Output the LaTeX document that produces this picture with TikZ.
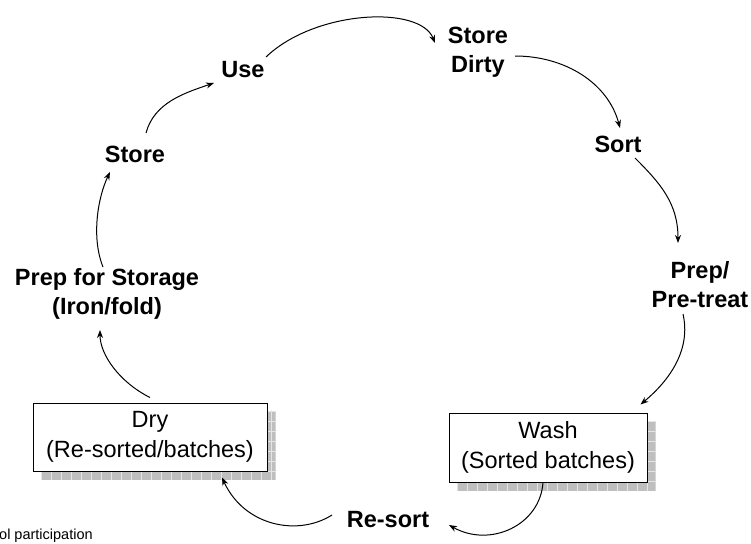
\documentclass[tikz,border=0pt]{standalone}
\usepackage{fontspec}
\setmainfont{Liberation Sans}
\usetikzlibrary{arrows.meta,calc,backgrounds}
\tikzset{
  lbl/.style={font=\fontsize{23.5}{29}\selectfont\bfseries, align=center, inner sep=0pt},
  boxed/.style={draw=black, line width=1pt, fill=white,
    font=\fontsize{23.5}{30}\selectfont, align=center, inner sep=0pt},
  flow/.style={line width=1pt, -{Stealth[length=8pt,width=6pt]}},
  shadefill/.style={fill=gray!50},
  shadegrid/.style={draw=gray!20, line width=0.6pt},
  note/.style={font=\fontsize{14.5}{17}\selectfont, inner sep=0pt, anchor=base west},
}
\begin{document}
\begin{tikzpicture}[x=1pt,y=-1pt]
\useasboundingbox (0,0) rectangle (751,543);

% stage labels
\node[lbl] (use)    at (243,70)  {Use};
\node[lbl] (dirty)  at (478,52)  {Store\\Dirty};
\node[lbl] (sort)   at (618,144) {Sort};
\node[lbl] (prep)   at (700,285) {Prep/\\Pre-treat};
\node[lbl] (resort) at (388,520) {Re-sort};
\node[lbl] (pstore) at (107,294) {Prep for Storage\\(Iron/fold)};
\node[lbl] (store)  at (135,154) {Store};

% boxed stages
\node[boxed, minimum width=234, minimum height=68] (dry)  at (150,437)   {Dry\\(Re-sorted/batches)};
\node[boxed, minimum width=198, minimum height=69] (wash) at (548,447.5) {Wash\\(Sorted batches)};

% hatched drop shadows behind the boxes
\begin{pgfonlayer}{background}
  \begin{scope}
    \clip ($(dry.north west)+(8,8)$) rectangle ($(dry.south east)+(8,8)$);
    \fill[shadefill] ($(dry.north west)+(8,8)$) rectangle ($(dry.south east)+(8,8)$);
    \foreach \x in {41,51,...,281} \draw[shadegrid] (\x,405) -- (\x,485);
    \foreach \y in {411,421,...,481} \draw[shadegrid] (35,\y) -- (281,\y);
  \end{scope}
  \begin{scope}
    \clip ($(wash.north west)+(8,8)$) rectangle ($(wash.south east)+(8,8)$);
    \fill[shadefill] ($(wash.north west)+(8,8)$) rectangle ($(wash.south east)+(8,8)$);
    \foreach \x in {457,467,...,661} \draw[shadegrid] (\x,415) -- (\x,495);
    \foreach \y in {421,431,...,491} \draw[shadegrid] (451,\y) -- (661,\y);
  \end{scope}
\end{pgfonlayer}

% cycle connectors
\draw[flow] ($(store)+(11,-21)$) .. controls +(8,-30) and +(-30,10) .. ($(use)+(-29,13)$);
\draw[flow] ($(use)+(23,-13)$) .. controls +(49,-47) and +(-15,-38) .. ($(dirty)+(-43,-9)$);
\draw[flow] ($(dirty)+(37,4)$) .. controls +(50,0) and +(-12,-45) .. ($(sort)+(2,-16)$);
\draw[flow] ($(sort)+(17,14)$) .. controls +(25,25) and +(0,-40) .. ($(prep)+(-22,-42)$);
\draw[flow] ($(prep)+(-17,29)$) .. controls +(8,35) and +(30,-25) .. ($(wash.north east)+(-7,-8)$);
\draw[flow] ($(wash.south)+(-5,0)$) .. controls +(-3,43) and +(41,23) .. ($(resort)+(61,5)$);
\draw[flow] ($(resort)+(-56,-5)$) .. controls +(-35,22) and +(22,48) .. ($(dry.south)+(72,6)$);
\draw[flow] ($(dry.north)+(0,-5)$) .. controls +(-30,-15) and +(0,25) .. ($(pstore)+(-7,36)$);
\draw[flow] ($(pstore)+(-4,-27)$) .. controls +(-12,-30) and +(-12,25) .. ($(store)+(-25,18)$);

% footer fragment
\node[note] (foot) at (-1,539) {ol participation};
\end{tikzpicture}
\end{document}
